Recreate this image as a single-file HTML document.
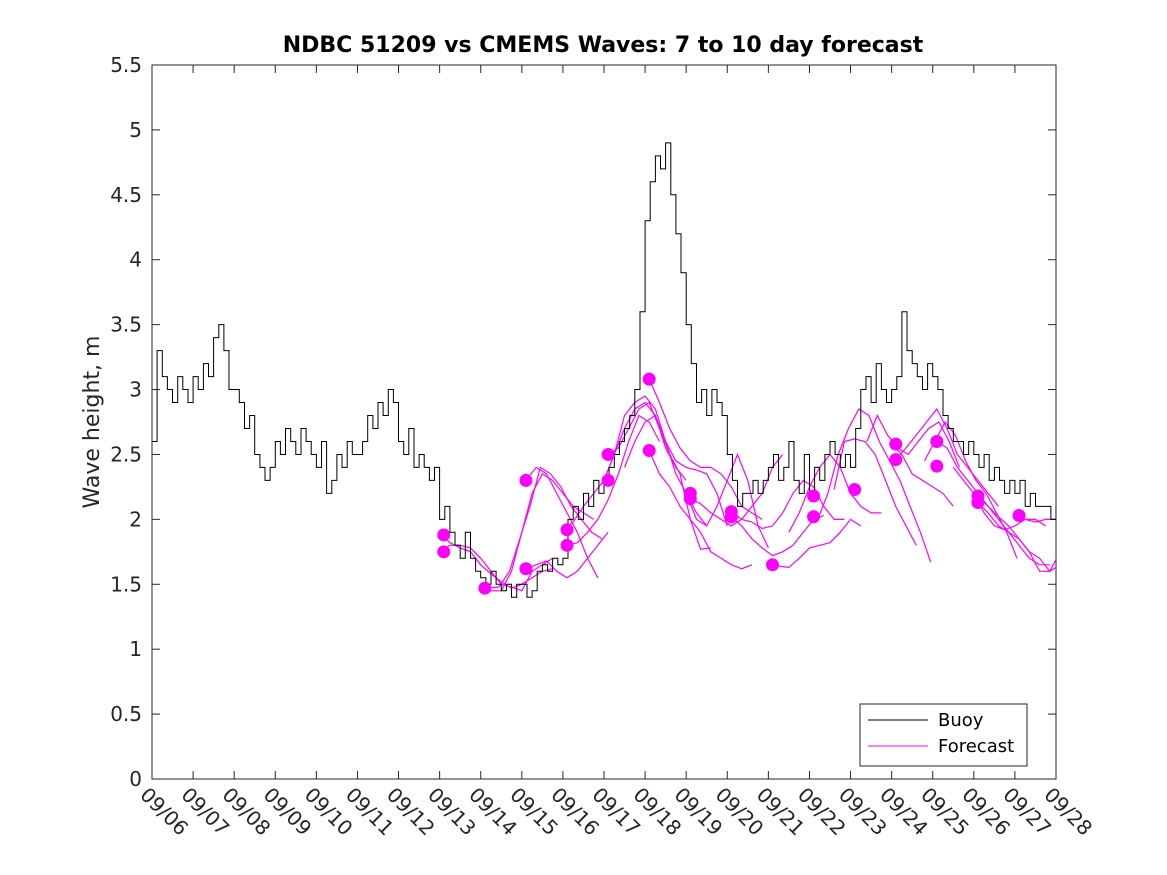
<!DOCTYPE html>
<html><head><meta charset="utf-8"><style>
body{margin:0;background:#fff}
svg{display:block;font-family:"DejaVu Sans","Liberation Sans",sans-serif}
</style></head><body>
<svg id="chart" width="1167" height="875">
<defs><clipPath id="pc"><rect x="152" y="65" width="904" height="714"/></clipPath></defs>
<rect width="1167" height="875" fill="#fff"/>
<text x="603" y="52" text-anchor="middle" font-size="22" font-weight="bold" fill="#000">NDBC 51209 vs CMEMS Waves: 7 to 10 day forecast</text>
<text transform="translate(99,422) rotate(-90)" text-anchor="middle" font-size="22" fill="#262626">Wave height, m</text>
<g id="axes"></g>
<g id="series" clip-path="url(#pc)"></g>
<g>
<rect x="860" y="704" width="167" height="62" fill="#fff" stroke="#262626" stroke-width="1"/>
<line x1="868" y1="720" x2="928" y2="720" stroke="#000" stroke-width="1"/>
<text x="938" y="726" font-size="18" fill="#000">Buoy</text>
<line x1="868" y1="746" x2="928" y2="746" stroke="#f0f" stroke-width="1"/>
<text x="938" y="752" font-size="18" fill="#000">Forecast</text>
</g>
</svg>
<script>
const xTickLabels=["09/06","09/07","09/08","09/09","09/10","09/11","09/12","09/13","09/14","09/15","09/16","09/17","09/18","09/19","09/20","09/21","09/22","09/23","09/24","09/25","09/26","09/27","09/28"];
const yTicks=[0,0.5,1,1.5,2,2.5,3,3.5,4,4.5,5,5.5];
// buoy heights every 3 hours from 09/06 00:00 (8 per day)
const buoy=[
2.6,3.3,3.1,3.0,2.9,3.1,3.0,2.9,
3.1,3.0,3.2,3.1,3.4,3.5,3.3,3.0,
3.0,2.9,2.7,2.8,2.5,2.4,2.3,2.4,
2.6,2.5,2.7,2.6,2.5,2.7,2.6,2.5,
2.4,2.6,2.2,2.3,2.5,2.4,2.6,2.5,
2.5,2.6,2.8,2.7,2.9,2.8,3.0,2.9,
2.6,2.5,2.7,2.4,2.5,2.4,2.3,2.4,
2.0,2.1,1.9,1.8,1.7,1.9,1.7,1.6,
1.55,1.5,1.6,1.5,1.45,1.5,1.4,1.5,
1.5,1.4,1.45,1.6,1.65,1.6,1.7,1.65,
1.7,2.0,2.1,2.0,2.2,2.1,2.3,2.2,
2.3,2.4,2.5,2.6,2.7,2.8,3.0,3.6,
4.3,4.6,4.8,4.7,4.9,4.5,4.2,3.9,
3.5,3.2,2.9,3.0,2.8,3.0,2.9,2.8,
2.5,2.3,2.1,2.2,2.2,2.3,2.2,2.3,
2.4,2.5,2.3,2.4,2.6,2.3,2.2,2.5,
2.2,2.4,2.3,2.5,2.6,2.5,2.4,2.5,
2.4,2.7,3.0,3.1,2.9,3.2,3.0,2.9,
3.0,3.1,3.6,3.3,3.2,3.1,3.0,3.2,
3.1,3.0,2.8,2.7,2.6,2.6,2.5,2.6,
2.5,2.4,2.5,2.3,2.4,2.3,2.2,2.3,
2.2,2.3,2.1,2.2,2.1,2.1,2.1,2.0,
2.1];
// forecast runs: start day (days since 09/06), values every 6 h
const fcStart=[7.0,7.0,8.0,8.2,9.1,9.1,10.0,10.1,11.0,11.1,11.5,12.1,12.1,13.0,13.1,14.1,14.1,15.0,15.5,16.2,16.6,17.4,18.0,18.1,18.8,19.1,19.5,20.1,20.1,21.0];
const fcVals=[
[1.9,1.82,1.78,1.75,1.65,1.58,1.52,1.47,1.5,1.55,1.6,1.62],
[1.75,1.8,1.8,1.78,1.7,1.6,1.5,1.48,1.45,1.6,1.65,1.7],
[1.5,1.45,1.45,1.6,1.9,2.2,2.35,2.3,2.2,2.1,2.05,2.0],
[1.47,1.48,1.6,1.85,2.1,2.4,2.35,2.25,2.1,2.0,1.9,1.85],
[2.3,2.4,2.35,2.2,2.05,1.9,1.7,1.55],
[1.62,1.65,1.68,1.6,1.55,1.6,1.7,1.8,1.9],
[1.92,1.98,2.1,2.2,2.3,2.5,2.7,2.85,2.9,2.8,2.55,2.4,2.3],
[1.8,1.82,1.9,2.0,2.15,2.35,2.6,2.8,2.75,2.6],
[2.3,2.5,2.8,2.9,2.95,2.85,2.6,2.35,2.2,2.05,1.95],
[2.5,2.55,2.7,2.85,2.9,2.7,2.5,2.35,2.0,1.77,1.78],
[2.4,2.6,2.75,2.8,2.6,2.45,2.4,2.38,2.35,2.2,1.95],
[3.08,2.9,2.7,2.55,2.45,2.4,2.4,2.35,2.25,2.1,2.05,2.0],
[2.53,2.35,2.25,2.1,2.0,1.9,1.75,1.7,1.65,1.62,1.65],
[2.2,2.0,1.95,2.1,2.3,2.5,2.3,1.95,1.78],
[2.16,2.12,2.05,2.0,1.95,2.0,2.1,2.2,2.4,2.5],
[2.06,2.0,1.98,1.93,1.95,2.05,2.2,2.3,2.25,2.1,2.0,2.0],
[2.02,1.95,1.85,1.78,1.72,1.75,1.8,1.9,2.0,2.03],
[1.65,1.64,1.63,1.7,1.78,1.8,1.82,1.9,2.0,1.95],
[1.9,2.05,2.25,2.4,2.5,2.4,2.2,2.1,2.05,2.05],
[2.0,2.2,2.5,2.7,2.85,2.8,2.6,2.45,2.3,2.1,1.9,1.67],
[2.23,2.6,2.62,2.6,2.5,2.3,2.1,1.95,1.8],
[2.6,2.8,2.65,2.55,2.5,2.6,2.7,2.75,2.6,2.4],
[2.58,2.5,2.35,2.3,2.25,2.2,2.1],
[2.46,2.55,2.65,2.75,2.85,2.7,2.5,2.4,2.3,2.2,2.1],
[2.45,2.6,2.75,2.65,2.45,2.3,2.2,2.05,1.9,1.7],
[2.6,2.55,2.4,2.3,2.2,2.1,2.0,1.9,1.8,1.7,1.65,1.65],
[2.4,2.3,2.2,2.05,1.95,1.92,1.95,2.0,2.0,1.95],
[2.18,2.1,2.02,1.95,1.85,1.75,1.7,1.6,1.75],
[2.13,2.05,1.95,1.9,1.85,1.75,1.6,1.6,1.65],
[2.03,2.0,1.98,2.0,2.0,1.95,1.92,1.92]];
// forecast markers: day and height
const dotDay=[7.1,7.1,8.1,9.1,9.1,10.1,10.1,11.1,11.1,12.1,12.1,13.1,13.1,14.1,14.1,15.1,16.1,16.1,17.1,18.1,18.1,19.1,19.1,20.1,20.1,21.1];
const dotVal=[1.88,1.75,1.47,2.3,1.62,1.92,1.8,2.5,2.3,3.08,2.53,2.2,2.16,2.06,2.02,1.65,2.18,2.02,2.23,2.58,2.46,2.6,2.41,2.18,2.13,2.03];

const X0=152,X1=1056,Y0=779,Y1=65;
const xs=d=>X0+(X1-X0)*d/22;
const ys=v=>Y0-(Y0-Y1)*v/5.5;
const NS="http://www.w3.org/2000/svg";
const axes=document.getElementById('axes'),ser=document.getElementById('series');
function mk(tag,attrs,parent){const e=document.createElementNS(NS,tag);for(const k in attrs)e.setAttribute(k,attrs[k]);parent.appendChild(e);return e;}
const frame=mk('rect',{x:X0,y:Y1,width:X1-X0,height:Y0-Y1,fill:'none',stroke:'#262626','stroke-width':1},axes);


yTicks.forEach(v=>{
  const y=ys(v);
  mk('line',{x1:X0,y1:y,x2:X0+8,y2:y,stroke:'#262626'},axes);
  mk('line',{x1:X1,y1:y,x2:X1-8,y2:y,stroke:'#262626'},axes);
  const t=mk('text',{x:X0-10,y:y+7,'text-anchor':'end','font-size':20,fill:'#262626'},axes);
  t.textContent=String(v);
  
  
});
xTickLabels.forEach((lab,i)=>{
  const x=xs(i);
  mk('line',{x1:x,y1:Y0,x2:x,y2:Y0-8,stroke:'#262626'},axes);
  mk('line',{x1:x,y1:Y1,x2:x,y2:Y1+8,stroke:'#262626'},axes);
  const t=mk('text',{x:0,y:0,transform:`translate(${x-13},${Y0+17}) rotate(45)`,'font-size':20,fill:'#262626'},axes);
  t.textContent=lab;
  
  
});
fcStart.forEach((s,i)=>{
  const pts=fcVals[i].map((v,j)=>xs(s+j*0.25).toFixed(1)+','+ys(v).toFixed(1)).join(' ');
  const p=mk('polyline',{points:pts,fill:'none',stroke:'#f0f','stroke-width':1.2},ser);
  
  
});
{
  let d='';
  const step=22/(buoy.length-1);
  buoy.forEach((v,i)=>{const x=xs(i*step),y=ys(v);d+=(i?'L':'M')+x.toFixed(1)+','+y.toFixed(1);if(i<buoy.length-1)d+='H'+xs((i+1)*step).toFixed(1);});
  const p=mk('path',{d:d,fill:'none',stroke:'#000','stroke-width':1},ser);
  
  
}
dotDay.forEach((d,i)=>{
  const c=mk('circle',{cx:xs(d),cy:ys(dotVal[i]),r:6.5,fill:'#f0f'},ser);
  
  
});
</script>
</body></html>
